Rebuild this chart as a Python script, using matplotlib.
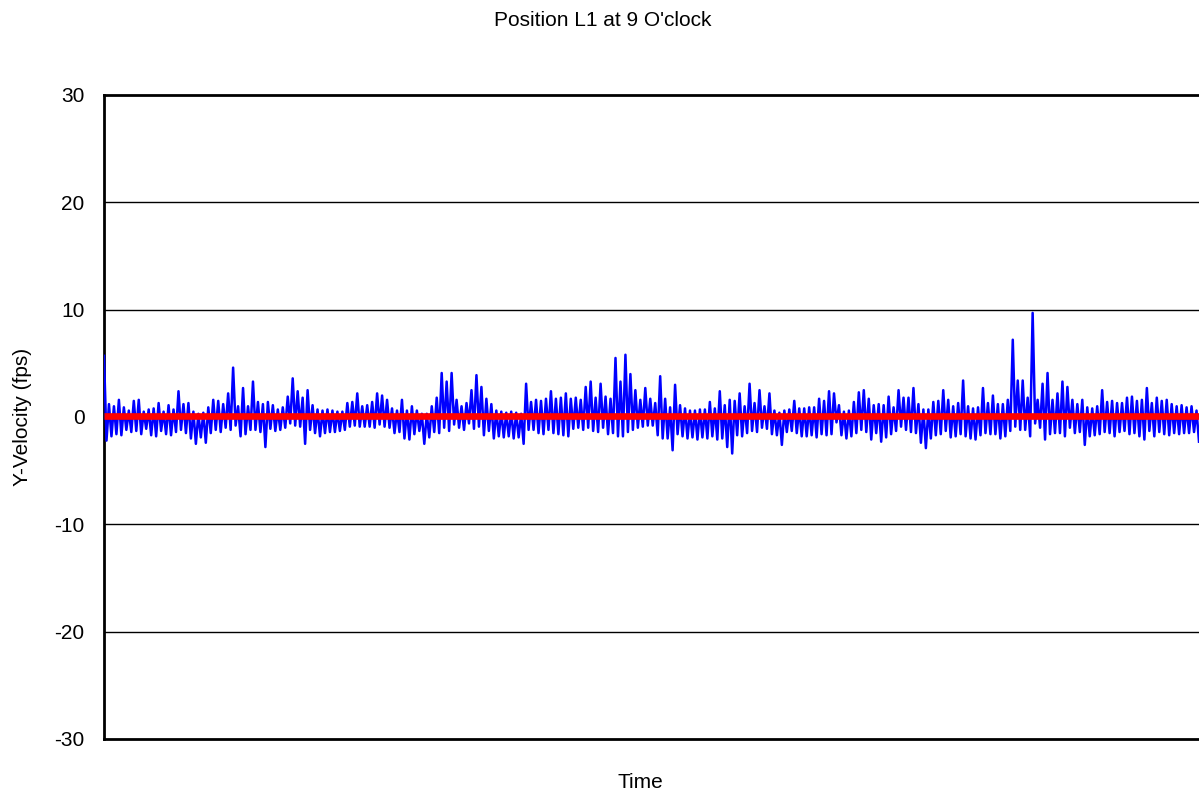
import numpy as np
import matplotlib
matplotlib.use("Agg")
import matplotlib.pyplot as plt

plt.rcParams['font.family'] = ['Liberation Sans', 'DejaVu Sans']

title = "Position L1 at 9 O'clock"
x_label = "Time"
y_label = "Y-Velocity (fps)"
y_ticks = [-30, -20, -10, 0, 10, 20, 30]

# Local maxima / minima of the Y-velocity trace, read left to right
upper_1 = [5.7, 1.2, 1.0, 1.6, 0.9, 0.6, 1.5, 1.6, 0.5, 0.7, 0.8, 1.3, 0.5, 1.1, 0.7, 2.4,
           1.2, 1.3, 0.5, 0.3, 0.4, 0.9, 1.6, 1.5, 1.2, 2.2, 4.6, 1.0, 2.7, 1.0, 3.3, 1.4,
           1.2, 1.4, 1.1, 0.7, 0.9]
lower_1 = [-2.2, -1.8, -1.6, -1.7, -1.2, -1.4, -1.3, -1.6, -1.1, -1.7, -1.8, -1.3, -1.6, -1.7,
           -1.4, -1.2, -1.5, -2.0, -2.5, -1.9, -2.4, -1.5, -1.2, -1.4, -1.0, -1.2, -0.8, -1.8,
           -1.6, -1.2, -1.2, -1.4, -2.8, -1.1, -1.3, -1.2, -1.0]

upper_2 = [1.9, 3.6, 2.4, 1.8, 2.5, 1.1, 0.7, 0.6, 0.7, 0.6, 0.5, 0.5, 1.3, 1.4, 2.2, 1.0,
           1.1, 1.4, 2.2, 2.0, 1.6, 0.8, 0.6, 1.6, 0.6, 1.0, 0.6, 0.3, 0.3, 1.0, 1.8, 4.1,
           3.3, 4.1, 1.6, 1.0, 1.3]
lower_2 = [-0.6, -0.8, -0.9, -2.5, -1.2, -1.5, -1.8, -1.5, -1.4, -1.4, -1.3, -1.2, -0.9, -0.8,
           -0.9, -0.9, -0.9, -1.0, -0.7, -0.9, -1.0, -1.5, -1.4, -2.0, -2.1, -1.6, -1.3, -2.5,
           -1.9, -1.4, -1.5, -1.0, -1.3, -0.7, -1.0, -1.2, -0.6]

upper_3 = [2.5, 3.9, 2.8, 1.7, 1.2, 0.6, 0.5, 0.4, 0.5, 0.4, 0.3, 3.1, 1.4, 1.6, 1.5, 1.7,
           2.4, 1.7, 1.8, 2.2, 1.7, 1.8, 1.6, 2.8, 3.3, 1.8, 3.1, 1.9, 1.7, 5.5, 3.3, 5.8,
           4.0, 2.5, 1.6, 2.7, 1.7]
lower_3 = [-1.1, -0.9, -1.7, -1.3, -2.0, -1.8, -1.9, -1.8, -2.0, -1.9, -2.5, -1.2, -1.2, -1.5,
           -1.6, -1.2, -1.5, -1.6, -1.7, -1.8, -1.1, -1.0, -1.2, -1.0, -1.3, -1.4, -1.0, -1.6,
           -1.5, -1.8, -1.8, -1.4, -1.2, -1.0, -0.9, -0.8, -0.8]

upper_4 = [1.3, 3.8, 1.7, 0.9, 3.0, 1.1, 0.8, 0.6, 0.6, 0.7, 0.7, 1.4, 0.8, 2.4, 1.1, 1.6,
           1.5, 2.2, 1.0, 3.1, 1.3, 2.5, 1.0, 2.2, 0.6, 0.4, 0.6, 0.7, 1.5, 0.8, 0.8, 0.9,
           0.9, 1.7, 1.5, 2.4, 2.2]
lower_4 = [-1.7, -2.0, -2.0, -3.1, -1.6, -1.8, -2.0, -1.9, -2.1, -1.9, -2.0, -1.8, -2.1, -2.0,
           -2.8, -3.4, -1.7, -1.8, -1.5, -1.3, -1.4, -1.0, -1.1, -1.6, -1.7, -2.6, -1.4, -1.3,
           -1.5, -1.8, -1.8, -1.7, -1.9, -1.6, -1.7, -1.6, -0.5]

upper_5 = [1.1, 0.5, 0.6, 1.4, 2.3, 2.5, 1.7, 1.1, 1.2, 1.1, 1.9, 0.9, 2.5, 1.8, 1.8, 2.7,
           1.2, 0.7, 0.7, 1.4, 1.5, 2.5, 1.6, 1.0, 1.3, 3.4, 1.0, 0.8, 0.9, 2.7, 1.3, 2.0,
           1.2, 1.2, 1.6, 7.2, 3.4]
lower_5 = [-1.7, -2.0, -1.8, -1.5, -1.2, -1.4, -2.1, -1.5, -2.3, -1.9, -1.6, -1.3, -0.9, -1.2,
           -1.4, -1.5, -2.4, -2.9, -2.0, -1.7, -1.6, -1.3, -1.9, -1.8, -1.6, -1.8, -2.0, -2.1,
           -1.7, -1.5, -1.6, -1.6, -2.0, -1.8, -1.3, -0.9, -1.2]

upper_6 = [3.4, 1.8, 9.7, 1.6, 3.1, 4.1, 1.6, 2.2, 3.3, 2.8, 1.6, 1.2, 1.6, 0.9, 0.8, 1.0,
           2.5, 1.4, 1.5, 1.3, 1.3, 1.8, 1.9, 1.5, 1.6, 2.7, 1.3, 1.8, 1.5, 1.6, 1.2, 1.0,
           1.1, 0.9, 1.0, 0.6]
lower_6 = [-1.2, -1.8, -0.6, -1.0, -2.1, -1.6, -1.5, -1.5, -1.8, -1.0, -1.5, -1.4, -2.6, -1.8,
           -1.7, -1.6, -1.4, -1.5, -1.8, -1.4, -1.3, -1.6, -1.5, -1.8, -2.1, -1.3, -1.8, -1.4,
           -1.6, -1.7, -1.5, -1.6, -1.5, -1.5, -1.4, -2.3]

mean_velocity = 0.05

upper = np.array(upper_1 + upper_2 + upper_3 + upper_4 + upper_5 + upper_6)
lower = np.array(lower_1 + lower_2 + lower_3 + lower_4 + lower_5 + lower_6)
velocity = np.column_stack([upper, lower]).ravel()
t = np.arange(len(velocity))

fig = plt.figure(figsize=(11.99, 7.97), dpi=100)
ax = fig.add_axes([104 / 1199, 1 - 739 / 797, 1 - 104 / 1199, (739 - 95) / 797])

ax.plot(t, velocity, color='#0000FF', linewidth=1.8, zorder=3,
        solid_joinstyle='round')
ax.plot([t[0], t[-1]], [mean_velocity, mean_velocity], color='#FF0000', linewidth=4.8,
        zorder=4, solid_capstyle='butt')

ax.set_ylim(-30, 30)
ax.set_xlim(t[0], t[-1])
ax.set_yticks(y_ticks)
ax.set_yticklabels([str(v) for v in y_ticks])
ax.set_xticks([])
ax.tick_params(axis='y', length=0, pad=14, labelsize=15)
for yv in y_ticks[1:-1]:
    ax.axhline(yv, color='black', linewidth=1.0, zorder=1)

for side in ['top', 'bottom', 'left']:
    ax.spines[side].set_linewidth(2.0)
    ax.spines[side].set_color('black')
ax.spines['right'].set_visible(False)

ax.set_ylabel(y_label, fontsize=15)
ax.yaxis.set_label_coords(-(104 - 22) / (1199 - 104), 0.5)
ax.set_xlabel(x_label, fontsize=15)
ax.xaxis.set_label_coords((640 - 104) / (1199 - 104), -(782 - 739) / (739 - 95))
ax.xaxis.label.set_verticalalignment('center')
ax.yaxis.label.set_verticalalignment('center')

fig.text(603 / 1199, 1 - 20 / 797, title, ha='center', va='center', fontsize=15)

fig.savefig('out.png', dpi=100)
